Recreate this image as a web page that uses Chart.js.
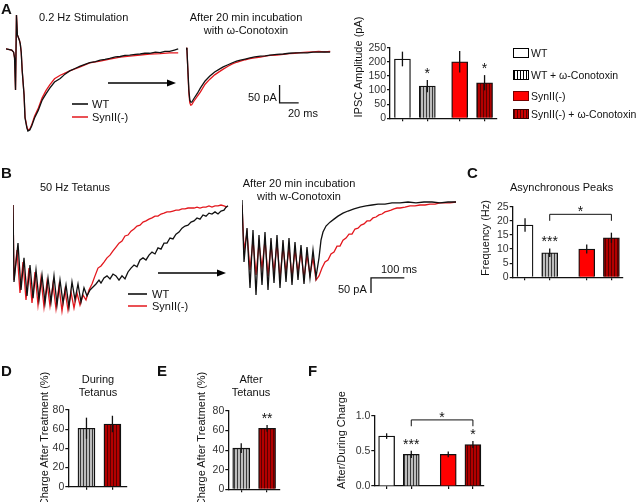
<!DOCTYPE html>
<html>
<head>
<meta charset="utf-8">
<script src="https://cdn.jsdelivr.net/npm/chart.js@4.4.0/dist/chart.umd.min.js"></script>
<style>
body { margin: 0; width: 640px; height: 502px; overflow: hidden; background: #fff; position: relative;
       font-family: Arial, "Liberation Sans", sans-serif; color: #111; }
canvas { position: absolute; }
.t { position: absolute; font-size: 11px; line-height: 13px; white-space: nowrap; }
.lg { font-size: 10.5px; }
.c { transform: translateX(-50%); text-align: center; }
.lbl { position: absolute; font-size: 15px; line-height: 16px; font-weight: bold; }
.rot { position: absolute; font-size: 11px; white-space: nowrap; transform: translate(-50%, -50%) rotate(-90deg); }
.sw { position: absolute; width: 14px; height: 8px; border: 1px solid #000; }
</style>
</head>
<body>
<canvas id="a1"></canvas>
<canvas id="a2"></canvas>
<canvas id="aBar"></canvas>
<canvas id="b1"></canvas>
<canvas id="b2"></canvas>
<canvas id="cBar"></canvas>
<canvas id="dBar"></canvas>
<canvas id="eBar"></canvas>
<canvas id="fBar"></canvas>

<svg width="640" height="502" style="position:absolute;left:0;top:0">
  <g stroke="#000" stroke-width="1.5">
    <line x1="108" y1="83" x2="169" y2="83"/>
    <line x1="158" y1="273" x2="219" y2="273"/>
    <line x1="72" y1="104" x2="88" y2="104"/>
    <line x1="128" y1="294" x2="147" y2="294"/>
  </g>
  <polygon points="167,79.5 176,83 167,86.5" fill="#000"/>
  <polygon points="217,269.5 226,273 217,276.5" fill="#000"/>
  <g stroke="#e3171d" stroke-width="1.5">
    <line x1="72" y1="117" x2="88" y2="117"/>
    <line x1="128" y1="306" x2="147" y2="306"/>
  </g>
</svg>

<div class="lbl" style="left:1px;top:1px">A</div>
<div class="t" style="left:39px;top:11px">0.2 Hz Stimulation</div>
<div class="t c" style="left:246px;top:11px">After 20 min incubation<br>with ω-Conotoxin</div>
<div class="t" style="left:92px;top:98px">WT</div>
<div class="t" style="left:92px;top:111px">SynII(-)</div>
<div class="t" style="left:248px;top:91px">50 pA</div>
<div class="t" style="left:288px;top:107px">20 ms</div>
<div class="rot" style="left:358px;top:67px">IPSC Amplitude (pA)</div>
<div id="legend"></div>

<div class="lbl" style="left:1px;top:165px">B</div>
<div class="t" style="left:40px;top:181px">50 Hz Tetanus</div>
<div class="t c" style="left:299px;top:177px">After 20 min incubation<br>with w-Conotoxin</div>
<div class="t" style="left:152px;top:288px">WT</div>
<div class="t" style="left:152px;top:300px">SynII(-)</div>
<div class="t" style="left:381px;top:263px">100 ms</div>
<div class="t" style="left:338px;top:283px">50 pA</div>

<div class="lbl" style="left:467px;top:165px">C</div>
<div class="t" style="left:510px;top:181px">Asynchronous Peaks</div>
<div class="rot" style="left:485px;top:238px">Frequency (Hz)</div>

<div class="lbl" style="left:1px;top:363px">D</div>
<div class="t c" style="left:98px;top:373px">During<br>Tetanus</div>
<div class="rot" style="left:44px;top:439px">Charge After Treatment (%)</div>

<div class="lbl" style="left:157px;top:363px">E</div>
<div class="t c" style="left:251px;top:373px">After<br>Tetanus</div>
<div class="rot" style="left:201px;top:439px">Charge After Treatment (%)</div>

<div class="lbl" style="left:308px;top:363px">F</div>
<div class="rot" style="left:341px;top:440px">After/During Charge</div>

<script>
// groups shown in the bar panels
var groups = ['WT', 'WT + ω-Conotoxin', 'SynII(-)', 'SynII(-) + ω-Conotoxin'];

// A: single IPSC traces, [ms, pA]
var a1Wt = [[0,3],[6,0],[8,-6],[9,-22],[10,-111],[11,97],[12,42],[14,28],[15,17],[16,-6],[17,-56],[19,-125],[20,-189],[22,-217],[23,-225],[25,-222],[27,-211],[30,-189],[34,-167],[38,-139],[42,-122],[46,-106],[51,-89],[57,-79],[62,-67],[67,-58],[72,-52],[78,-45],[83,-40],[88,-35],[94,-32],[99,-28],[104,-26],[109,-23],[115,-19],[120,-18],[125,-15],[130,-14],[136,-12],[141,-11],[146,-9],[151,-9],[157,-6],[162,-7],[167,-4],[172,-4],[177,0],[181,3]];
var a1Syn = [[0,3],[6,0],[8,-6],[9,-22],[10,-111],[11,97],[12,42],[14,28],[15,17],[16,-6],[17,-56],[19,-125],[20,-186],[22,-214],[23,-222],[25,-220],[27,-208],[30,-184],[34,-161],[38,-133],[42,-113],[46,-97],[51,-80],[57,-70],[62,-64],[67,-58],[78,-47],[88,-36],[99,-31],[109,-25],[120,-20],[130,-17],[141,-14],[151,-11],[162,-10],[172,-8],[181,-8]];
var a2Wt = [[0,6],[1,0],[2,-56],[3,-111],[4,-139],[5,-145],[6,-145],[8,-136],[12,-120],[15,-106],[20,-86],[25,-72],[30,-61],[35,-53],[39,-47],[44,-41],[48,-36],[53,-31],[57,-28],[62,-25],[67,-22],[72,-19],[78,-17],[83,-16],[88,-14],[95,-12],[102,-11],[108,-9],[114,-8],[120,-8],[127,-8],[133,-6],[139,-6],[145,-5],[151,-6]];
var a2Syn = [[0,6],[1,0],[2,-60],[3,-120],[4,-147],[5,-153],[6,-152],[8,-143],[12,-128],[15,-117],[20,-95],[25,-81],[30,-69],[35,-60],[39,-53],[44,-45],[48,-39],[53,-34],[57,-31],[62,-27],[67,-24],[72,-22],[78,-20],[83,-17],[88,-15],[95,-14],[102,-12],[108,-10],[114,-9],[120,-7],[127,-6],[133,-5],[139,-4],[145,-5],[151,-4]];
var aBarScale = [[98,-97],[98,-147],[118,-147]];   // 50 pA / 20 ms

// B: 50 Hz tetanus traces, [ms, pA]
var b1Wt = [[0,0],[3,-256],[15,-127],[24,-283],[33,-176],[42,-303],[51,-200],[60,-310],[69,-216],[78,-316],[87,-233],[96,-326],[105,-243],[114,-323],[123,-236],[132,-333],[141,-250],[150,-326],[159,-266],[168,-340],[177,-256],[186,-316],[195,-263],[204,-323],[213,-276],[222,-303],[231,-283],[240,-273],[249,-263],[258,-250],[264,-260],[273,-243],[282,-236],[291,-246],[300,-230],[309,-236],[318,-250],[327,-236],[336,-246],[345,-223],[354,-210],[363,-200],[372,-206],[381,-183],[390,-176],[399,-183],[408,-167],[417,-157],[426,-163],[435,-143],[444,-147],[453,-127],[462,-127],[471,-110],[480,-113],[489,-97],[498,-90],[507,-77],[516,-70],[525,-67],[534,-57],[543,-53],[552,-43],[561,-47],[570,-33],[579,-37],[588,-27],[597,-30],[606,-23],[615,-30],[624,-20],[633,-17],[639,-7],[645,-3]];
var b1Syn = [[0,0],[3,-250],[12,-150],[21,-293],[30,-190],[39,-316],[48,-210],[57,-326],[66,-223],[75,-333],[84,-243],[93,-340],[102,-256],[111,-336],[120,-263],[129,-346],[138,-270],[147,-353],[156,-283],[165,-350],[174,-290],[183,-343],[192,-293],[201,-333],[210,-300],[219,-316],[228,-283],[237,-263],[246,-236],[255,-210],[264,-203],[273,-190],[282,-176],[291,-167],[300,-153],[309,-140],[318,-127],[327,-120],[336,-103],[345,-100],[354,-87],[363,-80],[372,-70],[381,-67],[390,-57],[399,-53],[408,-47],[417,-43],[426,-37],[435,-37],[444,-30],[453,-27],[462,-23],[471,-23],[480,-20],[489,-17],[498,-17],[507,-13],[516,-13],[525,-10],[534,-10],[543,-10],[552,-7],[561,-10],[570,-7],[579,-7],[588,-3],[597,-7],[606,-3],[615,-3],[624,0],[633,-3],[642,-7]];
var b2Wt = [[0,7],[6,-200],[15,-87],[24,-286],[33,-93],[42,-310],[51,-110],[60,-276],[69,-100],[78,-293],[87,-120],[96,-270],[105,-110],[114,-286],[123,-127],[132,-266],[141,-120],[150,-276],[159,-133],[168,-260],[177,-143],[186,-273],[195,-150],[204,-253],[213,-160],[222,-250],[231,-186],[237,-127],[243,-100],[252,-80],[264,-67],[276,-57],[288,-47],[303,-37],[318,-30],[336,-23],[354,-17],[372,-13],[390,-10],[408,-7],[429,-7],[450,-3],[474,-3],[498,0],[522,-3],[546,0],[570,0],[594,-3],[618,0],[642,0]];
var b2Syn = [[0,-10],[6,-160],[15,-103],[24,-226],[33,-127],[42,-243],[51,-137],[60,-220],[69,-127],[78,-246],[87,-143],[96,-233],[105,-137],[114,-253],[123,-150],[132,-233],[141,-153],[150,-250],[159,-160],[168,-233],[177,-167],[186,-253],[195,-176],[204,-243],[213,-186],[222,-260],[231,-246],[240,-220],[249,-200],[258,-193],[267,-173],[276,-167],[285,-147],[294,-147],[303,-127],[312,-120],[321,-107],[330,-107],[339,-90],[348,-87],[357,-77],[366,-73],[375,-63],[384,-63],[393,-53],[402,-50],[411,-43],[420,-40],[429,-33],[438,-30],[447,-27],[456,-23],[465,-20],[474,-20],[489,-17],[504,-13],[519,-13],[534,-10],[549,-10],[564,-7],[579,-7],[594,-3],[609,-3],[624,-3],[642,0]];
var bBarScale = [[487,-253],[387,-253],[387,-303]];  // 100 ms / 50 pA

// A: IPSC amplitude (pA)
var ipscMean = [210, 114, 200, 126];
var ipscSem = [26, 22, 38, 27];
var ipscStars = ['', '*', '', '*'];

// C: asynchronous peak frequency (Hz)
var asyncMean = [18.5, 8.7, 10.0, 14.0];
var asyncSem = [2.4, 1.5, 1.6, 1.8];
var asyncStars = ['', '***', '', ''];
var asyncLink = { from: 1, to: 3, top: 22.3, foot: 20, text: '*' };

// D / E: charge after treatment (%), WT + ω and SynII(-) + ω
var duringMean = [61, 65.4];
var duringSem = [11, 8.6];
var afterMean = [42, 62.3];
var afterSem = [5, 3.4];
var afterStars = ['', '**'];

// F: after / during charge ratio
var ratioMean = [0.71, 0.45, 0.45, 0.59];
var ratioSem = [0.04, 0.05, 0.04, 0.05];
var ratioStars = ['', '***', '', '*'];
var ratioLink = { from: 1, to: 3, top: 0.94, foot: 0.85, text: '*' };

Chart.defaults.font.family = 'Arial, "Liberation Sans", sans-serif';
Chart.defaults.color = '#222';

function stripes(bg, line) {
    var c = document.createElement('canvas');
    c.width = 3; c.height = 4;
    var g = c.getContext('2d');
    g.fillStyle = bg; g.fillRect(0, 0, 3, 4);
    g.fillStyle = line; g.fillRect(0, 0, 1, 4);
    return g.createPattern(c, 'repeat');
}
var grayFill = stripes('#bdbdbd', '#3a3a3a');
var darkRedFill = stripes('#b30000', '#5a0000');
var fourFills = ['#ffffff', grayFill, '#ff0000', darkRedFill];
var twoFills = [grayFill, darkRedFill];

// legend for panel A
var swatch = ['background:#fff',
    'background:repeating-linear-gradient(90deg,#000 0 1px,#fff 1px 3px)',
    'background:#f00;border-color:#700',
    'background:repeating-linear-gradient(90deg,#500 0 1px,#c00 1px 3px);border-color:#300'];
var rowTop = [48, 70, 91, 109];
var html = '';
groups.forEach(function (g, i) {
    html += '<div class="sw" style="left:513px;top:' + rowTop[i] + 'px;' + swatch[i] + '"></div>';
    html += '<div class="t lg" style="left:531px;top:' + (rowTop[i] - 1.5) + 'px">' + g + '</div>';
});
document.getElementById('legend').innerHTML = html;

function pts(arr) {
    return arr.map(function (p) { return { x: p[0], y: p[1] }; });
}

function place(cv, left, top, w, h) {
    cv.width = w; cv.height = h;
    cv.style.left = left + 'px';
    cv.style.top = top + 'px';
}

function scaleBar(path) {
    return {
        id: 'scaleBar',
        afterDatasetsDraw: function (chart) {
            if (!path) return;
            var ctx = chart.ctx, xs = chart.scales.x, ys = chart.scales.y;
            ctx.save();
            ctx.strokeStyle = '#111';
            ctx.lineWidth = 1.3;
            ctx.beginPath();
            path.forEach(function (p, i) {
                var X = xs.getPixelForValue(p[0]), Y = ys.getPixelForValue(p[1]);
                if (i) ctx.lineTo(X, Y); else ctx.moveTo(X, Y);
            });
            ctx.stroke();
            ctx.restore();
        }
    };
}

function traces(id, left, top, w, h, xmax, ymin, ymax, wt, syn, bar) {
    var cv = document.getElementById(id);
    place(cv, left, top, w, h);
    new Chart(cv, {
        type: 'line',
        data: {
            datasets: [
                { label: 'WT', data: pts(wt), borderColor: '#111', clip: false },
                { label: 'SynII(-)', data: pts(syn), borderColor: '#e3171d', clip: false }
            ]
        },
        options: {
            responsive: false, animation: false, events: [],
            layout: { padding: 0 },
            elements: { point: { radius: 0 }, line: { borderWidth: 1.3, tension: 0 } },
            plugins: { legend: { display: false }, tooltip: { enabled: false } },
            scales: {
                x: { type: 'linear', display: false, min: 0, max: xmax },
                y: { type: 'linear', display: false, min: ymin, max: ymax }
            }
        },
        plugins: [scaleBar(bar)]
    });
}

function errMarks(sem, stars, link) {
    return {
        id: 'errMarks',
        afterDatasetsDraw: function (chart) {
            var ctx = chart.ctx, xs = chart.scales.x, ys = chart.scales.y;
            var data = chart.data.datasets[0].data;
            var X = function (i) { return xs.getPixelForValue(data[i].x); };
            ctx.save();
            ctx.strokeStyle = '#111';
            ctx.fillStyle = '#111';
            ctx.lineWidth = 1.3;
            data.forEach(function (p, i) {
                ctx.beginPath();
                ctx.moveTo(X(i), ys.getPixelForValue(p.y - sem[i]));
                ctx.lineTo(X(i), ys.getPixelForValue(p.y + sem[i]));
                ctx.stroke();
            });
            ctx.font = '14px Arial, "Liberation Sans", sans-serif';
            ctx.textAlign = 'center';
            (stars || []).forEach(function (s, i) {
                if (s) ctx.fillText(s, X(i), ys.getPixelForValue(data[i].y + sem[i]) - 2);
            });
            if (link) {
                var x1 = X(link.from), x2 = X(link.to);
                var yt = ys.getPixelForValue(link.top), yf = ys.getPixelForValue(link.foot);
                ctx.lineWidth = 1;
                ctx.beginPath();
                ctx.moveTo(x1, yf); ctx.lineTo(x1, yt); ctx.lineTo(x2, yt); ctx.lineTo(x2, yf);
                ctx.stroke();
                ctx.fillText(link.text, (x1 + x2) / 2, yt + 2);
            }
            ctx.restore();
        }
    };
}

// area = [left, top, right, bottom] of the plot box
function bars(id, area, slots, xmax, mean, sem, fills, thick, ymax, step, digits, stars, link) {
    var cv = document.getElementById(id);
    var left = Math.floor(area[0]) - 30, top = Math.floor(area[1]) - 10;
    var w = Math.ceil(area[2]) + 4 - left, h = Math.ceil(area[3]) + 10 - top;
    place(cv, left, top, w, h);
    var axisGrid = { drawOnChartArea: false, tickLength: 3, color: '#111', lineWidth: 1.2, offset: false };
    new Chart(cv, {
        type: 'bar',
        data: {
            datasets: [{
                data: slots.map(function (s, i) { return { x: s, y: mean[i] }; }),
                backgroundColor: fills,
                borderColor: '#111',
                borderWidth: 1.3,
                barThickness: thick
            }]
        },
        options: {
            responsive: false, animation: false, events: [],
            layout: { padding: { left: area[0] - 30 - left, top: area[1] - top, right: left + w - area[2], bottom: top + h - area[3] - 4 } },
            plugins: { legend: { display: false }, tooltip: { enabled: false } },
            scales: {
                x: {
                    type: 'linear', min: 0, max: xmax, offset: false,
                    afterFit: function (s) { s.height = 4; },
                    afterBuildTicks: function (s) { s.ticks = slots.map(function (v) { return { value: v }; }); },
                    ticks: { display: false },
                    grid: axisGrid,
                    border: { color: '#111', width: 1.3 }
                },
                y: {
                    type: 'linear', min: 0, max: ymax,
                    afterFit: function (s) { s.width = 30; },
                    ticks: { stepSize: step, autoSkip: false, padding: 1, font: { size: 10.5 }, color: '#333',
                             callback: function (v) { return v.toFixed(digits); } },
                    grid: axisGrid,
                    border: { color: '#111', width: 1.3 }
                }
            }
        },
        plugins: [errMarks(sem, stars, link)]
    });
}

traces('a1', 6, 0, 176, 140, 185, -250, 139, a1Wt, a1Syn, null);
traces('a2', 186, 0, 148, 140, 155, -250, 139, a2Wt, a2Syn, aBarScale);
traces('b1', 13, 190, 220, 130, 660, -383, 50, b1Wt, b1Syn, null);
traces('b2', 242, 190, 220, 130, 660, -393, 40, b2Wt, b2Syn, bBarScale);

bars('aBar', [390, 47.7, 497, 118.3], [0.5, 1.5, 2.8, 3.8], 4.3, ipscMean, ipscSem, fourFills, 16, 250, 50, 0, ipscStars, null);
bars('cBar', [512.7, 206.7, 623, 277.3], [0.5, 1.5, 3, 4], 4.47, asyncMean, asyncSem, fourFills, 16, 25, 5, 0, asyncStars, asyncLink);
bars('dBar', [68.3, 410, 126.7, 486.7], [0.7, 1.7], 2.25, duringMean, duringSem, twoFills, 17, 80, 20, 0, null, null);
bars('eBar', [228.3, 411, 280, 489.3], [0.5, 1.5], 2, afterMean, afterSem, twoFills, 17, 80, 20, 0, afterStars, null);
bars('fBar', [374.3, 415.7, 484, 486], [0.5, 1.5, 3, 4], 4.45, ratioMean, ratioSem, fourFills, 16, 1, 0.5, 1, ratioStars, ratioLink);
</script>
</body>
</html>
